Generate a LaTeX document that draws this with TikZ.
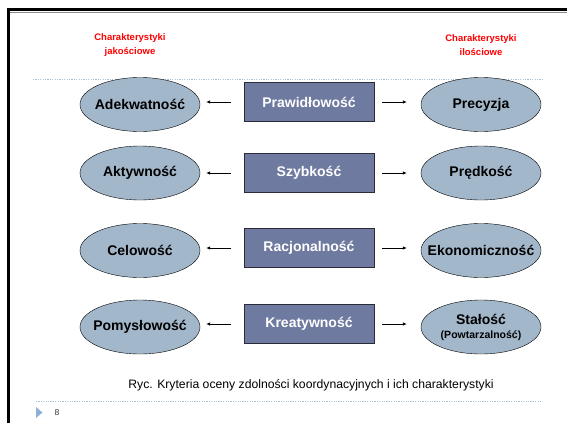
\documentclass[tikz,border=0pt]{standalone}
\usepackage{fontspec}
\setmainfont{Liberation Sans}
\usepackage{xcolor}
\usepackage{tikz}
\usetikzlibrary{arrows.meta,positioning,shapes.geometric}
\definecolor{ink}{HTML}{000000}
\definecolor{elfill}{HTML}{A3B7CB}
\definecolor{boxfill}{HTML}{6F7AA0}
\definecolor{boxline}{HTML}{2B2B3A}
\definecolor{czerw}{HTML}{FF0000}
\definecolor{kropki}{HTML}{A9C1D9}
\definecolor{znacznik}{HTML}{8DB2D6}
\definecolor{cien}{HTML}{8A8A8A}
\tikzset{
  cecha/.style={draw=ink,ellipse,fill=elfill,align=center,font=\fontsize{14}{15}\selectfont\bfseries,inner xsep=-15pt,inner ysep=0pt,minimum width=120pt,minimum height=54pt},
  kryterium/.style={draw=boxline,fill=boxfill,text=white,align=center,font=\fontsize{14}{15}\selectfont\bfseries,minimum width=130pt,minimum height=39pt,inner sep=0pt},
  naglowek/.style={text=czerw,align=center,font=\fontsize{9.5}{13.5}\selectfont\bfseries},
  strz/.style={-{Latex[length=4pt,width=3.5pt]},draw=ink,line width=0.7pt},
  kropkowana/.style={draw=kropki,line width=1pt,dash pattern=on 1.2pt off 1.2pt}
}

\begin{document}
\begin{tikzpicture}[x=1pt,y=-1pt]
  \useasboundingbox (0,0) rectangle (567,423);
  % ramka slajdu
  \draw[cien,line width=1pt] (10,12) -- (567,12);
  \draw[ink,line width=3pt] (7,9.5) -- (567,9.5);
  \draw[ink,line width=3pt] (8.5,8) -- (8.5,423);
  % naglowki
  \node[naglowek] (jak) at (130,45) {Charakterystyki\\jakościowe};
  \node[naglowek] (ilo) at (481,45) {Charakterystyki\\ilościowe};
  \coordinate (g1) at (33,79);
  \coordinate (g2) at (542,79);
  \draw[kropkowana] (g1) -- (g2);
  % wiersze
  \node[kryterium] (k1) at (309,102) {Prawidłowość};
  \node[cecha] (l1) at (140,104.5) {Adekwatność};
  \node[cecha] (p1) at (481,104.5) {Precyzja};
  \node[kryterium] (k2) at (309,173) {Szybkość};
  \node[cecha] (l2) at (140,173) {Aktywność};
  \node[cecha] (p2) at (481,173) {Prędkość};
  \node[kryterium] (k3) at (309,248) {Racjonalność};
  \node[cecha] (l3) at (140,250.5) {Celowość};
  \node[cecha] (p3) at (481,250.5) {Ekonomiczność};
  \node[kryterium] (k4) at (309,324) {Kreatywność};
  \node[cecha] (l4) at (140,327) {Pomysłowość};
  \node[cecha] (p4) at (481,327) {Stałość\\[-1pt]{\fontsize{10.5}{12}\selectfont(Powtarzalność)}};
  \foreach \i in {1,2,3,4} {
    \draw[strz,shorten <=13pt,shorten >=6pt] (k\i.west) -- (k\i.west -| l\i.east);
    \draw[strz,shorten <=8pt,shorten >=14pt] (k\i.east) -- (k\i.east -| p\i.west);
  }
  % podpis
  \node[font=\fontsize{12.2}{14}\selectfont] (ryc) at (311,385) {Ryc. Kryteria oceny zdolności koordynacyjnych i ich charakterystyki};
  \coordinate (d1) at (36,401);
  \coordinate (d2) at (542,401);
  \draw[kropkowana] (d1) -- (d2);
  \fill[znacznik] (36,407) -- (42.5,412.5) -- (36,418) -- cycle;
  \node[font=\fontsize{8.5}{10}\selectfont,text=black!80] (nr) at (57,412.5) {8};
\end{tikzpicture}
\end{document}
